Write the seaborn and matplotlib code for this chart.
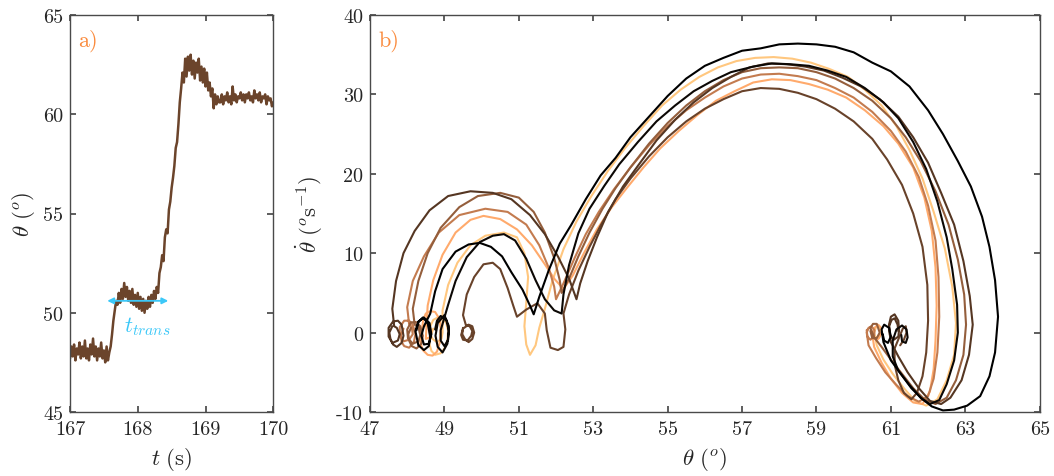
import numpy as np
import pandas as pd
import matplotlib
matplotlib.use("Agg")
import matplotlib.pyplot as plt
import seaborn as sns

# ---------------- data: panel a) time series ----------------
t_start, t_end = 167.0, 170.0
theta_series = [
    47.7, 48.3, 47.8, 48.4, 47.6, 48.2, 47.9, 48.5, 47.7, 48.3,
    47.8, 48.6, 47.7, 48.2, 47.6, 48.4, 47.9, 48.7, 47.8, 48.3,
    47.6, 48.2, 47.8, 48.5, 47.7, 48.1, 47.5, 48.3, 47.6, 48.0,
    48.3, 48.9, 49.6, 50.1, 50.6, 50.4, 51.0,
    50.5, 51.2, 50.7, 51.5, 50.8, 51.3, 50.6, 51.1, 50.5, 51.2,
    50.4, 50.9, 50.3, 51.0, 50.2, 50.8, 50.1, 50.7, 50.0, 50.6,
    50.2, 50.8, 50.3, 50.9, 50.5, 51.1, 50.7, 51.3,
    51.0, 52.0, 52.3, 52.9, 52.6, 53.8, 54.2, 54.0, 55.2, 55.6,
    56.3, 56.8, 57.4, 58.3, 58.6, 59.5, 60.6, 61.3, 62.1, 61.6,
    62.8, 61.9, 62.9, 62.2, 63.0, 62.0, 62.7, 61.8, 62.6, 62.1,
    62.8, 61.7, 62.4, 61.6, 62.3, 61.4, 62.1, 61.2, 61.6, 60.9,
    61.3, 60.3, 61.0, 60.5, 60.9, 60.6,
    60.6, 61.0, 60.5, 60.9, 60.7, 61.1, 60.6, 60.9, 60.5, 61.4,
    60.7, 61.0, 60.6, 60.9, 60.8, 61.1, 60.7, 61.0, 60.6, 61.0,
    60.8, 61.1, 60.7, 60.9, 60.6, 61.2, 60.8, 61.0, 60.7, 61.1,
    60.6, 60.9, 60.8, 61.0, 60.5, 60.9, 60.7, 60.8, 60.4, 60.6,
]
t_trans_span = [167.55, 168.45]
t_trans_level = 50.6

# ---------------- data: panel b) phase portraits (theta, theta_dot) ----------------
loop_1 = [(48.25,0.3),(48.3,1.3),(48.42,1.9),(48.55,1.2),(48.62,-0.6),(48.58,-1.7),(48.45,-2.2),(48.3,-1.6),
          (48.22,0.2),(48.3,1.4),(48.45,1.9),(48.6,1.2),(48.65,-0.2),(48.58,-1.4),(48.45,-1.5),(48.38,-0.4),
          (48.45,0.8),
          (48.62,2.4),(48.75,5.2),(48.95,8.0),(49.3,10.2),(49.65,11.1),(49.95,11.3),(50.25,10.8),(50.55,9.6),
          (50.8,7.6),(51.1,5.4),(51.3,3.4),(51.4,2.3),
          (51.55,4.5),(51.8,7.8),(52.1,11.2),(52.4,13.5),(52.8,16.8),(53.2,19.8),(53.6,22.0),(54.0,24.6),
          (54.5,27.2),(55.0,29.8),(55.5,32.0),(56.0,33.6),(56.5,34.6),(57.0,35.5),(57.5,35.8),(58.0,36.3),
          (58.5,36.4),(59.0,36.3),(59.5,36.0),(60.0,35.3),(60.5,34.0),(61.0,32.9),(61.5,31.0),(62.0,28.0),
          (62.4,25.0),(62.8,21.6),(63.15,18.4),(63.45,14.6),(63.65,10.8),(63.8,6.6),(63.88,2.0),(63.8,-2.5),
          (63.65,-5.5),(63.4,-8.0),(63.05,-9.2),(62.7,-9.7),(62.4,-9.8),(62.1,-9.3),(61.85,-8.4),(61.55,-7.0),
          (61.3,-5.4),(61.0,-3.5),(60.8,-1.2),(60.75,0.4),(60.82,1.0),(60.95,0.6),(61.0,-0.5),(60.92,-1.3),
          (60.82,-1.0),(60.78,-0.2)]
loop_2 = [(48.75,0.4),(48.8,1.5),(48.9,2.1),(49.05,1.6),(49.12,0.2),(49.08,-1.4),(48.95,-2.5),(48.82,-1.8),
          (48.76,-0.4),(48.82,1.2),(49.0,2.2),(49.12,0.8),(49.1,-0.9),(49.0,-1.7),(48.9,-1.0),(48.9,0.3),
          (49.1,3.5),(49.3,6.5),(49.6,9.5),(49.95,11.4),(50.3,12.2),(50.6,12.4),(50.9,11.6),(51.2,9.3),
          (51.45,6.6),(51.7,4.2),(51.95,2.8),(52.15,2.4),
          (52.2,4.8),(52.35,8.5),(52.6,12.5),(52.9,15.6),(53.3,18.5),(53.7,21.2),(54.2,24.0),(54.7,26.6),
          (55.2,28.6),(55.7,30.4),(56.2,31.7),(56.7,32.8),(57.3,33.5),(57.8,33.9),(58.3,33.8),(58.8,33.6),
          (59.3,33.0),(59.8,32.2),(60.3,30.8),(60.8,29.0),(61.2,27.0),(61.6,24.0),(61.95,20.6),(62.25,16.5),
          (62.5,12.0),(62.65,8.0),(62.78,3.5),(62.8,0.0),(62.7,-3.5),(62.5,-6.5),(62.3,-8.5),(62.05,-9.0),
          (61.8,-8.2),(61.5,-6.6),(61.2,-4.8),(61.05,-3.0),(61.05,-1.0),(61.15,0.4),(61.3,0.9),(61.42,0.4),
          (61.45,-0.6),(61.4,-1.3),(61.3,-1.1),(61.28,-0.3)]
loop_3 = [(47.6,0.8),(47.52,0.0),(47.55,-0.8),(47.62,-1.5),(47.72,-1.8),(47.85,-1.3),(47.9,-0.4),(47.85,1.0),
          (47.75,1.5),(47.62,1.4),(47.5,0.6),(47.5,-0.5),(47.6,-1.3),(47.75,-1.0),(47.8,-0.2),(47.72,0.6),
          (47.65,0.8),
          (47.6,3.0),(47.7,6.5),(47.9,10.0),(48.2,12.8),(48.6,15.4),(49.1,17.2),(49.7,17.8),(50.3,17.6),
          (50.8,16.8),(51.3,14.8),(51.7,12.4),(52.05,9.6),(52.35,6.8),(52.55,4.2),
          (52.65,6.2),(52.85,9.0),(53.1,12.0),(53.4,15.2),(53.8,18.4),(54.2,21.0),(54.7,24.2),(55.2,26.8),
          (55.7,29.0),(56.2,30.8),(56.7,32.2),(57.2,33.4),(57.7,33.9),(58.2,33.8),(58.7,33.5),(59.2,33.0),
          (59.7,32.1),(60.2,31.0),(60.7,29.4),(61.2,27.2),(61.6,24.6),(62.0,21.4),(62.35,17.6),(62.7,13.6),
          (62.95,9.0),(63.12,4.6),(63.2,1.0),(63.1,-2.8),(62.9,-6.0),(62.6,-8.2),(62.35,-9.0),(62.05,-8.6),
          (61.75,-7.0),(61.45,-5.0),(61.2,-3.0),(61.0,-1.2),(60.95,1.0),(61.0,2.0),(61.1,2.3),(61.2,1.5),
          (61.22,0.3),(61.2,-0.5),(61.08,-0.9),(60.97,-0.3),(60.95,0.8),(61.02,1.6),(61.1,1.8),(61.18,1.0),
          (61.2,0.2)]
loop_4 = [(49.5,0.6),(49.48,-0.2),(49.55,-0.8),(49.65,-1.2),(49.75,-0.8),(49.8,0.0),(49.75,0.8),(49.65,1.0),
          (49.5,0.5),(49.45,-0.3),(49.5,-0.9),(49.62,-1.0),(49.72,-0.4),(49.75,0.2),(49.68,0.8),(49.58,0.9),
          (49.5,2.2),(49.6,4.8),(49.8,7.0),(50.05,8.6),(50.3,8.8),(50.5,8.0),(50.7,5.6),(50.85,3.4),
          (50.95,2.0),(51.2,2.9),(51.5,3.7),(51.7,2.4),(51.75,0.3),(51.85,-1.9),(52.05,-2.2),(52.2,-1.8),
          (52.25,0.4),(52.2,2.4),
          (52.35,4.8),(52.6,7.8),(52.9,10.8),(53.2,13.5),(53.6,16.8),(54.0,19.4),(54.5,22.2),(55.0,24.6),
          (55.5,26.6),(56.0,28.2),(56.5,29.4),(57.0,30.4),(57.5,30.8),(58.0,30.7),(58.5,30.2),(59.0,29.4),
          (59.5,28.2),(60.0,26.6),(60.5,24.4),(60.9,21.8),(61.3,18.6),(61.6,15.0),(61.85,10.8),(61.98,6.0),
          (62.0,1.5),(61.95,-2.5),(61.85,-5.5),(61.7,-7.6),(61.55,-8.4),(61.35,-7.6),(61.2,-6.0),(61.1,-4.0),
          (61.1,-2.0),(61.25,-0.3),(61.32,0.5),(61.4,0.8),(61.42,0.0),(61.35,-0.9),(61.25,-1.6)]
loop_5 = [(48.1,0.6),(48.03,-0.2),(48.05,-1.0),(48.12,-1.7),(48.25,-2.0),(48.38,-1.4),(48.42,-0.4),(48.35,0.8),
          (48.25,1.3),(48.1,1.3),(48.0,0.4),(48.02,-0.7),(48.15,-1.4),(48.3,-1.1),(48.35,-0.3),(48.3,0.7),
          (48.2,1.0),
          (48.15,3.0),(48.3,6.5),(48.55,10.0),(48.9,13.2),(49.4,15.8),(49.9,17.2),(50.5,17.6),(51.0,17.0),
          (51.4,15.2),(51.7,12.6),(51.95,9.4),(52.1,6.6),(52.15,5.0),
          (52.35,6.8),(52.6,9.6),(52.9,12.6),(53.25,15.6),(53.6,18.2),(54.0,20.8),(54.5,23.8),(55.0,26.4),
          (55.5,28.6),(56.0,30.4),(56.5,31.8),(57.0,32.8),(57.5,33.3),(58.0,33.4),(58.5,33.3),(59.0,32.8),
          (59.5,32.0),(60.0,30.8),(60.5,29.2),(61.0,27.0),(61.4,24.6),(61.8,21.6),(62.2,17.8),(62.55,13.6),
          (62.8,9.2),(62.97,4.8),(63.02,1.0),(62.95,-2.8),(62.75,-6.0),(62.5,-8.2),(62.2,-9.0),(61.9,-8.4),
          (61.6,-7.0),(61.3,-5.2),(61.0,-3.4),(60.75,-1.8),(60.55,-0.6),(60.45,0.6),(60.52,1.1),(60.62,1.1),
          (60.7,0.0),(60.62,-0.7),(60.5,-0.7),(60.45,0.2)]
loop_6 = [(47.9,0.5),(47.83,-0.3),(47.85,-1.2),(47.92,-1.7),(48.05,-1.9),(48.18,-1.2),(48.22,-0.2),(48.15,1.0),
          (48.05,1.5),(47.92,1.5),(47.8,0.7),(47.8,-0.4),(47.9,-1.1),(48.05,-0.9),(48.15,-0.2),(48.12,0.7),
          (48.05,1.1),
          (48.0,3.2),(48.15,6.5),(48.45,9.6),(48.85,12.6),(49.4,14.8),(50.1,15.6),(50.7,15.2),(51.2,13.6),
          (51.55,11.0),(51.8,8.2),(51.95,5.8),(52.0,4.2),
          (52.2,6.2),(52.5,9.4),(52.8,12.4),(53.15,15.2),(53.55,18.0),(54.0,20.8),(54.5,23.6),(55.0,26.0),
          (55.5,28.0),(56.0,29.6),(56.5,31.0),(57.0,32.0),(57.5,32.5),(58.0,32.6),(58.5,32.3),(59.0,31.8),
          (59.5,30.8),(60.0,29.6),(60.5,27.8),(61.0,25.4),(61.4,22.8),(61.75,19.6),(62.0,16.0),(62.2,11.6),
          (62.28,7.0),(62.3,2.0),(62.25,-2.5),(62.15,-5.8),(62.0,-8.0),(61.75,-8.7),(61.45,-8.0),(61.15,-6.6),
          (60.85,-5.0),(60.6,-3.2),(60.4,-1.6),(60.35,0.0),(60.4,0.6),(60.48,0.8),(60.56,0.3),(60.55,-0.4),
          (60.45,-0.9),(60.37,-0.5),(60.35,0.3),(60.45,0.7)]
loop_7 = [(48.4,0.5),(48.43,1.6),(48.5,2.4),(48.62,2.7),(48.75,2.6),(48.87,1.7),(48.9,0.5),(48.88,-1.2),
          (48.8,-2.4),(48.68,-2.9),(48.55,-2.8),(48.42,-2.2),(48.35,-1.2),(48.37,0.0),(48.45,0.9),(48.6,0.8),
          (48.65,0.2),(48.6,-0.6),(48.5,-0.8),
          (48.55,3.4),(48.7,6.6),(48.95,9.8),(49.3,12.6),(49.7,14.2),(50.05,14.7),(50.5,14.3),(50.95,13.0),
          (51.35,11.0),(51.7,8.6),(51.95,6.8),(52.2,5.5),
          (52.45,7.2),(52.75,10.0),(53.1,13.0),(53.5,15.8),(53.9,18.2),(54.35,20.8),(54.8,23.2),(55.3,25.4),
          (55.8,27.4),(56.3,29.2),(56.8,30.4),(57.3,31.5),(57.8,31.9),(58.3,31.8),(58.8,31.3),(59.3,30.6),
          (59.8,29.6),(60.3,28.0),(60.8,26.0),(61.2,23.8),(61.6,20.8),(61.9,17.0),(62.1,12.8),(62.2,8.2),
          (62.23,3.4),(62.2,-1.0),(62.15,-4.6),(62.05,-7.4),(61.85,-9.0),(61.6,-8.8),(61.3,-7.6),(61.0,-5.8),
          (60.75,-3.8),(60.55,-1.8),(60.5,-0.2),(60.56,0.6),(60.65,1.0),(60.74,0.6),(60.75,0.0),(60.68,-0.7),
          (60.6,-1.0)]
loop_8 = [(48.7,0.5),(48.62,-0.5),(48.6,-1.5),(48.65,-2.3),(48.75,-2.8),(48.9,-2.6),(49.0,-2.0),(49.08,-1.0),
          (49.1,0.2),(49.05,1.2),(48.95,1.8),(48.82,1.9),(48.7,1.6),(48.62,0.8),(48.6,0.0),(48.68,-0.8),
          (48.8,-1.2),(48.92,-0.8),(48.95,0.0),
          (48.95,2.8),(49.1,6.0),(49.35,8.8),(49.7,11.0),(50.1,12.2),(50.6,12.6),(50.95,12.0),(51.15,10.0),
          (51.25,7.0),(51.2,3.8),(51.15,0.8),(51.2,-1.5),(51.3,-2.8),(51.45,-1.6),(51.55,0.6),
          (51.7,3.0),(51.9,6.5),(52.2,10.5),(52.55,14.0),(52.95,17.2),(53.4,20.4),(53.85,23.2),(54.35,26.0),
          (54.85,28.6),(55.35,30.6),(55.85,32.2),(56.35,33.4),(56.85,34.2),(57.35,34.6),(57.85,34.7),
          (58.35,34.5),(58.85,34.0),(59.35,33.2),(59.85,32.2),(60.3,30.6),(60.75,28.6),(61.15,26.0),
          (61.5,23.0),(61.85,19.4),(62.15,15.2),(62.45,10.6),(62.65,5.8),(62.75,1.2),(62.7,-2.8),(62.5,-6.0),
          (62.25,-8.4),(61.95,-9.2),(61.65,-8.6),(61.35,-7.0),(61.05,-5.2),(60.8,-3.4),(60.62,-1.6),
          (60.55,0.0),(60.6,0.7),(60.68,0.9),(60.75,0.0),(60.7,-0.5),(60.6,-0.6)]
loops = [loop_8, loop_7, loop_6, loop_5, loop_4, loop_3, loop_2, loop_1]
loop_shade = [1.0, 0.85, 0.62, 0.47, 0.33, 0.27, 0.04, 0.0]   # position on the copper map

x_ticks_a = [167, 168, 169, 170]
y_ticks_a = [45, 50, 55, 60, 65]
x_ticks_b = [47, 49, 51, 53, 55, 57, 59, 61, 63, 65]
y_ticks_b = [-10, 0, 10, 20, 30, 40]

# ---------------- style ----------------
sns.set_theme(style="ticks")
plt.rcParams.update({
    "font.family": ["serif"],
    "font.serif": ["cmr10", "DejaVu Serif"],
    "mathtext.fontset": "cm",
    "axes.unicode_minus": False,
    "axes.edgecolor": "#4a4a4a",
    "axes.linewidth": 1.0,
    "xtick.color": "#4a4a4a",
    "ytick.color": "#4a4a4a",
    "xtick.labelcolor": "#262626",
    "ytick.labelcolor": "#262626",
    "xtick.direction": "in",
    "ytick.direction": "in",
    "xtick.major.size": 4.0,
    "ytick.major.size": 4.0,
    "xtick.major.pad": 6.0,
    "ytick.major.pad": 5.0,
})

copper = plt.get_cmap("copper")
trace_color = copper(0.34)
label_orange = "#fa8a3c"
trans_cyan = "#3cc8f8"

fig = plt.figure(figsize=(10.54, 4.77), dpi=100)
ax_a = fig.add_axes([70 / 1054, 1 - 413 / 477, 203.3 / 1054, 397 / 477])
ax_b = fig.add_axes([370 / 1054, 1 - 413 / 477, 669.7 / 1054, 397 / 477])

# panel a
t_vals = np.linspace(t_start, t_end, len(theta_series))
df_a = pd.DataFrame({"t": t_vals, "theta": theta_series})
sns.lineplot(data=df_a, x="t", y="theta", ax=ax_a, sort=False, estimator=None,
             color=trace_color, lw=1.8)
ax_a.annotate("", xy=(t_trans_span[0], t_trans_level), xytext=(t_trans_span[1], t_trans_level),
              arrowprops=dict(arrowstyle="<|-|>", color=trans_cyan, lw=1.3, mutation_scale=9,
                              shrinkA=0, shrinkB=0), zorder=5)
ax_a.text(167.79, 49.05, r"$t_{trans}$", color=trans_cyan, fontsize=16)
ax_a.text(0.04, 0.965, "a)", transform=ax_a.transAxes, color=label_orange, fontsize=16,
          va="top", ha="left")

ax_a.set_xlim(167, 170)
ax_a.set_ylim(45, 65)
ax_a.set_xticks(x_ticks_a)
ax_a.set_xticklabels([str(v) for v in x_ticks_a], fontsize=14.5)
ax_a.set_yticks(y_ticks_a)
ax_a.set_yticklabels([str(v) for v in y_ticks_a], fontsize=14.5)
ax_a.set_xlabel(r"$t\ (\mathrm{s})$", fontsize=16.5, labelpad=5)
ax_a.set_ylabel(r"$\theta\ (^o)$", fontsize=16.5, labelpad=4)

# panel b
for pts, shade in zip(loops, loop_shade):
    df = pd.DataFrame(pts, columns=["theta", "theta_dot"])
    sns.lineplot(data=df, x="theta", y="theta_dot", ax=ax_b, sort=False, estimator=None,
                 color=copper(shade), lw=1.5)
ax_b.text(0.012, 0.965, "b)", transform=ax_b.transAxes, color=label_orange, fontsize=16,
          va="top", ha="left")
ax_b.set_xlim(47, 65)
ax_b.set_ylim(-10, 40)
ax_b.set_xticks(x_ticks_b)
ax_b.set_xticklabels([str(v) for v in x_ticks_b], fontsize=14.5)
ax_b.set_yticks(y_ticks_b)
ax_b.set_yticklabels([str(v) for v in y_ticks_b], fontsize=14.5)
ax_b.set_xlabel(r"$\theta\ (^o)$", fontsize=16.5, labelpad=5)
ax_b.set_ylabel(r"$\dot{\theta}\ (^o\mathrm{s}^{-1})$", fontsize=16.5, labelpad=8)

for ax in (ax_a, ax_b):
    ax.tick_params(top=True, right=True, which="both")
    for s in ax.spines.values():
        s.set_visible(True)
    ax.set_facecolor("white")

fig.savefig("out.png", dpi=100, facecolor="white")
